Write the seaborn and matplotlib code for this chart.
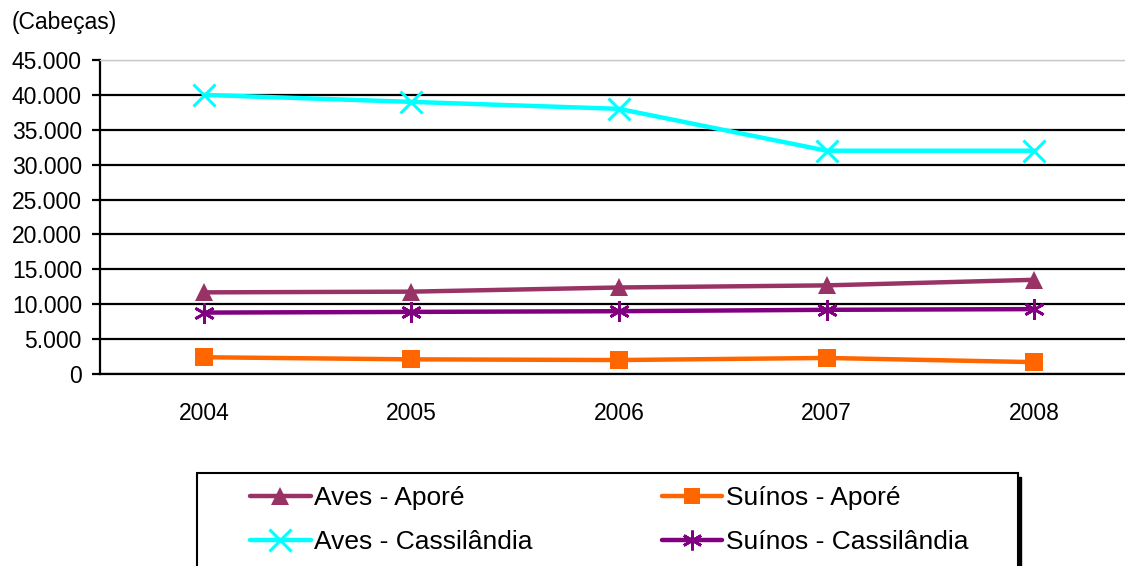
import matplotlib
matplotlib.use("Agg")
import matplotlib.pyplot as plt
from matplotlib.patches import Rectangle
from matplotlib.ticker import FuncFormatter
import pandas as pd
import seaborn as sns

# Rebanho (cabeças) por ano
years = [2004, 2005, 2006, 2007, 2008]
aves_apore = [11700, 11800, 12400, 12700, 13500]
suinos_apore = [2400, 2100, 2000, 2300, 1700]
aves_cassilandia = [40000, 39000, 38000, 32000, 32000]
suinos_cassilandia = [8800, 8900, 9000, 9200, 9300]

series_names = ["Aves - Aporé", "Suínos - Aporé", "Aves - Cassilândia", "Suínos - Cassilândia"]
series_values = [aves_apore, suinos_apore, aves_cassilandia, suinos_cassilandia]

df = pd.concat(
    [pd.DataFrame({"ano": years, "cabecas": vals, "serie": name})
     for name, vals in zip(series_names, series_values)],
    ignore_index=True,
)

sns.set_theme(style="white")
plt.rcParams["font.family"] = ["Liberation Sans", "DejaVu Sans"]
plt.rcParams["text.color"] = "black"

W, H = 1125, 566
fig = plt.figure(figsize=(W / 100, H / 100), dpi=100)
ax = fig.add_axes([100 / W, (H - 374) / H, (1138 - 100) / W, (374 - 60) / H])

styles = {
    "Aves - Aporé": dict(color="#993366", marker="^", markersize=13, mew=0),
    "Suínos - Aporé": dict(color="#FF6600", marker="s", markersize=12.5, mew=0),
    "Aves - Cassilândia": dict(color="#00FFFF", marker="x", markersize=16.5, mew=2.2),
    "Suínos - Cassilândia": dict(color="#800080", marker=(6, 2, 0), markersize=15, mew=2),
}

for name in series_names:
    st = styles[name]
    sub = df[df["serie"] == name]
    sns.lineplot(
        data=sub, x="ano", y="cabecas", ax=ax, label=name,
        color=st["color"], marker=st["marker"], markersize=st["markersize"],
        markeredgewidth=st["mew"], markeredgecolor=st["color"],
        linewidth=3.2, zorder=3,
    )

ax.set_xlim(2003.5, 2008.5)
ax.set_ylim(0, 45000)
ax.set_xticks(years)
ax.set_xticklabels([str(y) for y in years])
ax.set_yticks(range(0, 45001, 5000))
ax.yaxis.set_major_formatter(FuncFormatter(lambda v, p: f"{int(v):,}".replace(",", ".")))
ax.set_xlabel("")
ax.set_ylabel("")

ax.yaxis.grid(True, color="black", linewidth=1.6)
ax.xaxis.grid(False)
ax.get_ygridlines()[-1].set_color("#C8C8C8")
ax.get_ygridlines()[-1].set_linewidth(1.0)

for side in ("left", "bottom"):
    ax.spines[side].set_color("black")
    ax.spines[side].set_linewidth(1.6)
ax.spines["top"].set_color("#C8C8C8")
ax.spines["top"].set_linewidth(1.0)
ax.spines["right"].set_visible(False)

ax.tick_params(axis="y", which="major", left=True, length=6, width=1.6,
               color="black", direction="out", pad=7, labelsize=16.5, labelcolor="black")
ax.tick_params(axis="x", which="major", bottom=False, length=0, pad=20,
               labelsize=16.5, labelcolor="black")

fig.text(12 / W, 1 - 22 / H, "(Cabeças)", fontsize=16.5, ha="left", va="center", color="black")

# caixa da legenda com sombra
bx0, bx1, by0 = 197, 1018, 473
fig.patches.append(Rectangle(((bx0 + 3) / W, -0.1), (bx1 - bx0) / W, (H - by0 - 4) / H + 0.1,
                             transform=fig.transFigure, facecolor="black", edgecolor="black",
                             zorder=1))
fig.patches.append(Rectangle((bx0 / W, -0.1), (bx1 - bx0) / W, (H - by0) / H + 0.1,
                             transform=fig.transFigure, facecolor="white", edgecolor="black",
                             linewidth=1.5, zorder=2))

handles, labels = ax.get_legend_handles_labels()
ax.get_legend().remove()
order = [0, 2, 1, 3]
leg = fig.legend(
    [handles[i] for i in order], [labels[i] for i in order],
    loc="upper left", bbox_to_anchor=(250 / W, 1 - 486 / H),
    ncol=2, frameon=False, fontsize=19, handlelength=2.3, handletextpad=0.12,
    columnspacing=4.9, labelspacing=0.75, borderpad=0, borderaxespad=0,
    markerscale=0.95,
)
for t in leg.get_texts():
    t.set_color("black")
leg.set_zorder(5)

fig.savefig("out.png", dpi=100, facecolor="white")
